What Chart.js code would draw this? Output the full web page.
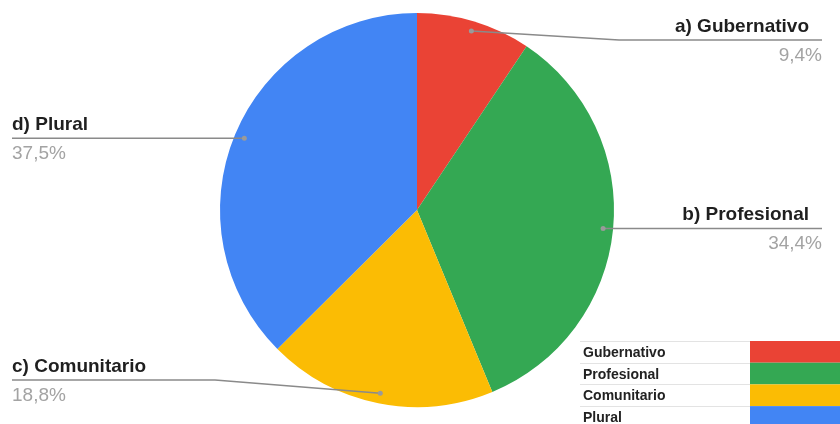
<!DOCTYPE html>
<html>
<head>
<meta charset="utf-8">
<script src="https://cdn.jsdelivr.net/npm/chart.js@4"></script>
<style>
  body { margin: 0; background: #fff; }
  #wrap { width: 840px; height: 424px; }
</style>
</head>
<body>
<div id="wrap"><canvas id="pie" width="840" height="424"></canvas></div>
<script>
// data
const categories = ['Gubernativo', 'Profesional', 'Comunitario', 'Plural'];
const labelPrefixes = ['a)', 'b)', 'c)', 'd)'];
const shares = [9.4, 34.4, 18.8, 37.5];
const sliceColors = ['#ea4335', '#34a853', '#fbbc04', '#4285f4'];

function formatShare(v) {
  return v.toFixed(1).replace('.', ',') + '%';
}

// leader lines + outside labels
const calloutPlugin = {
  id: 'callouts',
  afterDraw(chart) {
    const ctx = chart.ctx;
    const area = chart.chartArea;
    const meta = chart.getDatasetMeta(0);
    ctx.save();
    meta.data.forEach((arc, i) => {
      const p = arc.getProps(['x', 'y', 'startAngle', 'endAngle', 'outerRadius'], true);
      const mid = (p.startAngle + p.endAngle) / 2;
      const dotX = p.x + Math.cos(mid) * (p.outerRadius - 10);
      const dotY = p.y + Math.sin(mid) * (p.outerRadius - 10);
      const right = dotX >= p.x;
      const lineY = Math.min(Math.max(dotY, area.top + 27), area.bottom - 27);
      const elbowX = right ? p.x + p.outerRadius + 5 : p.x - p.outerRadius - 5;
      const endX = right ? 822 : 12;

      ctx.strokeStyle = '#8a8a8a';
      ctx.lineWidth = 1.5;
      ctx.beginPath();
      ctx.moveTo(dotX, dotY);
      ctx.lineTo(elbowX, lineY);
      ctx.lineTo(endX, lineY);
      ctx.stroke();

      ctx.fillStyle = '#9a9a9a';
      ctx.beginPath();
      ctx.arc(dotX, dotY, 2.5, 0, Math.PI * 2);
      ctx.fill();

      ctx.textAlign = right ? 'right' : 'left';
      ctx.textBaseline = 'alphabetic';
      ctx.font = 'bold 19px "Liberation Sans", Arial, sans-serif';
      ctx.fillStyle = '#1f1f1f';
      ctx.fillText(labelPrefixes[i] + ' ' + categories[i], right ? endX - 13 : endX, lineY - 8);
      ctx.font = '19px "Liberation Sans", Arial, sans-serif';
      ctx.fillStyle = '#a3a3a3';
      ctx.fillText(formatShare(shares[i]), endX, lineY + 21);
    });

    // little legend table, bottom right
    const tableX = 580, tableY = 341, rowH = 21.7, swatchX = 750;
    ctx.fillStyle = '#fff';
    ctx.fillRect(tableX, tableY, 840 - tableX, 424 - tableY);
    categories.forEach((name, i) => {
      const y = tableY + i * rowH;
      ctx.fillStyle = sliceColors[i];
      ctx.fillRect(swatchX, y, 840 - swatchX, rowH);
      ctx.strokeStyle = '#e3e3e3';
      ctx.lineWidth = 1;
      ctx.beginPath();
      ctx.moveTo(tableX, Math.round(y) + 0.5);
      ctx.lineTo(swatchX, Math.round(y) + 0.5);
      ctx.stroke();
      ctx.font = 'bold 14px "Liberation Sans", Arial, sans-serif';
      ctx.fillStyle = '#222';
      ctx.textAlign = 'left';
      ctx.fillText(name, tableX + 3, y + 16);
    });
    ctx.restore();
  }
};

new Chart(document.getElementById('pie'), {
  type: 'pie',
  data: {
    labels: categories,
    datasets: [{
      data: shares,
      backgroundColor: sliceColors,
      borderWidth: 0
    }]
  },
  options: {
    responsive: false,
    animation: false,
    layout: { padding: { top: 13, bottom: 17, left: 0, right: 6 } },
    plugins: {
      legend: { display: false },
      tooltip: { enabled: false }
    }
  },
  plugins: [calloutPlugin]
});
</script>
</body>
</html>
